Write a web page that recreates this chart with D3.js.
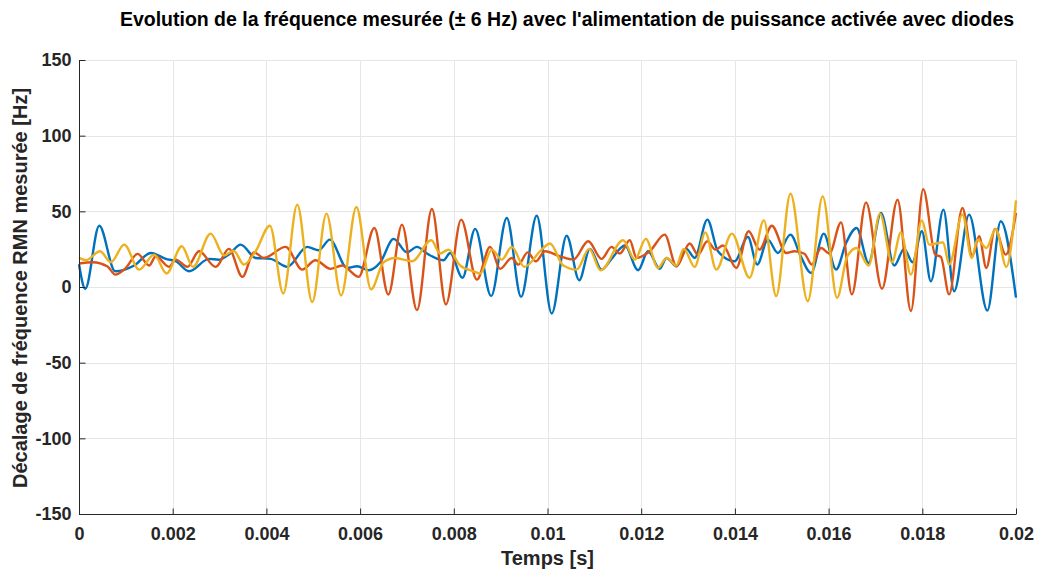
<!DOCTYPE html>
<html>
<head>
<meta charset="utf-8">
<script src="https://cdn.jsdelivr.net/npm/d3@7"></script>
<style>
  html, body { margin: 0; padding: 0; background: #fff; }
  svg { display: block; font-family: "Liberation Sans", Arial, Helvetica, sans-serif; }
</style>
</head>
<body>
<svg id="chart" width="1038" height="572"></svg>
<script>
// ---- Data (time in s, frequency offset in Hz) ----
const titleText = "Evolution de la fréquence mesurée (\u00B1 6 Hz) avec l'alimentation de puissance activée avec diodes";
const xLabel = "Temps [s]";
const yLabel = "Décalage de fréquence RMN mesurée [Hz]";
const xTicks = [0, 0.002, 0.004, 0.006, 0.008, 0.01, 0.012, 0.014, 0.016, 0.018, 0.02];
const yTicks = [-150, -100, -50, 0, 50, 100, 150];
const seriesNames = ["Série 1", "Série 2", "Série 3"];
const seriesColors = ["#0072BD", "#D95319", "#EDB120"];

const blueT = [0, 0.000134, 0.000432, 0.000773, 0.001178, 0.001534, 0.001853, 0.002066, 0.002349, 0.002775, 0.002982, 0.003220, 0.003450, 0.003770, 0.004089, 0.004445, 0.004871, 0.005118, 0.005353, 0.005723, 0.005936, 0.006183, 0.006432, 0.006716, 0.007001, 0.007214, 0.007427, 0.007781, 0.007923, 0.008185, 0.008456, 0.008797, 0.009131, 0.009436, 0.009770, 0.010090, 0.010409, 0.010677, 0.010905, 0.011154, 0.011367, 0.011651, 0.011934, 0.012147, 0.012396, 0.012539, 0.012752, 0.012965, 0.013142, 0.013412, 0.013638, 0.013994, 0.014277, 0.014477, 0.014703, 0.014916, 0.015186, 0.015399, 0.015627, 0.015896, 0.016160, 0.016373, 0.016598, 0.016854, 0.017118, 0.017401, 0.017614, 0.017791, 0.017991, 0.018183, 0.018451, 0.018679, 0.018999, 0.019389, 0.019674, 0.02];
const blueV = [15, -1.2, 40.5, 10.4, 14.2, 22.5, 18.6, 17, 10.4, 18.6, 18, 22, 28, 19.2, 18.6, 13.3, 26.5, 24.3, 31.3, 12.6, 13.7, 11.1, 16.4, 31.8, 22.9, 26.5, 22.1, 17.7, 22.5, 6.1, 38.4, -6, 45.6, -6.5, 47.1, -17.5, 33.9, 4.5, 25.2, 11.5, 18.6, 27.4, 11.1, 23.6, 12, 19.2, 13.7, 25.2, 19.2, 44.5, 23.6, 17, 33.1, 14.8, 31.3, 22.5, 34.6, 20.8, 9.3, 35.3, 11.5, 29.1, 39, 15.9, 48.9, 14.2, 25.2, 16.4, 36.8, 3.8, 51.1, -2.8, 47.8, -15.5, 43.4, -7];

const orangeT = [0, 0.000292, 0.000611, 0.000773, 0.001001, 0.001250, 0.001497, 0.001640, 0.001923, 0.002066, 0.002315, 0.002562, 0.002918, 0.003201, 0.003487, 0.003734, 0.003947, 0.004409, 0.004765, 0.005048, 0.005367, 0.005617, 0.005970, 0.006305, 0.006603, 0.006894, 0.007214, 0.007533, 0.007832, 0.008157, 0.008492, 0.008775, 0.008988, 0.009237, 0.009378, 0.009578, 0.009749, 0.009947, 0.010266, 0.010550, 0.010869, 0.011154, 0.011367, 0.011544, 0.011757, 0.011900, 0.012183, 0.012502, 0.012752, 0.013035, 0.013212, 0.013412, 0.013583, 0.013744, 0.014030, 0.014292, 0.014526, 0.014788, 0.015095, 0.015271, 0.015484, 0.015640, 0.015840, 0.016017, 0.016266, 0.016496, 0.016799, 0.017140, 0.017472, 0.017757, 0.018019, 0.018275, 0.018396, 0.018573, 0.018856, 0.019069, 0.019212, 0.019367, 0.019553, 0.019781, 0.02];
const orangeV = [15.5, 16.4, 13.5, 8.2, 12.6, 21.9, 14.2, 20.3, 13.3, 18.1, 13.3, 23.6, 13.3, 25.2, 6.7, 22.9, 19.2, 26.5, 11.5, 17.7, 12, 14.2, 6.7, 39, -5, 41.2, -15.3, 51.5, -11.5, 44.5, 4.9, 26.5, 12, 19.2, 14.8, 22.9, 17, 23.6, 20.3, 18.1, 30.2, 18.6, 26.5, 22.1, 30.9, 19.2, 23.6, 34.6, 13.7, 28.7, 21.4, 30.2, 24.7, 27.4, 12.6, 36.8, 24.7, 40.5, 22.5, 23.6, 22, 14.8, 25.8, 22.1, 42.7, -4.9, 55.9, -1.2, 57.7, -15.9, 64.7, 21.4, 19.9, -4.9, 52.2, 20.3, 33.5, 12.6, 38.4, 21.4, 49];

const yellowT = [0, 0.000149, 0.000447, 0.000682, 0.000965, 0.001284, 0.001604, 0.001868, 0.002194, 0.002434, 0.002811, 0.003095, 0.003301, 0.003521, 0.003770, 0.004075, 0.004360, 0.004658, 0.004978, 0.005282, 0.005595, 0.005921, 0.006234, 0.006503, 0.006752, 0.007108, 0.007519, 0.007710, 0.007887, 0.008136, 0.008420, 0.008562, 0.008812, 0.009025, 0.009237, 0.009506, 0.009876, 0.010053, 0.010337, 0.010622, 0.010890, 0.011133, 0.011615, 0.011864, 0.012098, 0.012360, 0.012539, 0.012752, 0.012907, 0.013142, 0.013369, 0.013603, 0.013936, 0.014313, 0.014618, 0.014881, 0.015186, 0.015555, 0.015874, 0.016181, 0.016394, 0.016598, 0.016854, 0.017097, 0.017352, 0.017544, 0.017757, 0.017991, 0.018147, 0.018445, 0.018573, 0.018856, 0.019056, 0.019176, 0.019367, 0.019567, 0.019794, 0.02];
const yellowV = [19.2, 17.7, 23.6, 16.4, 28, 11.5, 21.4, 8.9, 26.9, 13.3, 35.3, 20.8, 24, 14.8, 23.6, 40.5, -4.3, 54.4, -10, 48.5, -5.6, 52.9, -1.6, 16.4, 19.2, 17, 30.9, 22.1, 24.7, 14.2, 10.4, 8.9, 24.7, 18.1, 26.5, 13.3, 24.7, 28.7, 14.2, 11.5, 25.2, 11.1, 30.9, 18.1, 31.8, 12.6, 19.2, 14.2, 25.2, 13.3, 36.1, 11.5, 35.3, 6.1, 44, -6, 61.6, -9.4, 59.9, -7.1, 19.9, 25.8, 14.2, 48.5, 16.4, 36.1, 8.2, 44, 28, 29.5, 14.8, 47.8, 19.2, 31.3, 25.8, 38.4, 13.3, 57.2];

// ---- Layout ----
const W = 1038, H = 572;
const margin = { left: 79, right: 22, top: 60, bottom: 58 };
const svg = d3.select("#chart");
const x = d3.scaleLinear().domain([0, 0.02]).range([margin.left, W - margin.right]);
const y = d3.scaleLinear().domain([-150, 150]).range([H - margin.bottom, margin.top]);

const axisColor = "#262626";
const gridColor = "#e6e6e6";
const fontFam = "Liberation Sans, Arial, sans-serif";

// grid
const grid = svg.append("g");
grid.selectAll("line.gx").data(xTicks).join("line")
  .attr("x1", d => Math.round(x(d)) + 0.5).attr("x2", d => Math.round(x(d)) + 0.5)
  .attr("y1", y(-150)).attr("y2", y(150))
  .attr("stroke", gridColor).attr("stroke-width", 1);
grid.selectAll("line.gy").data(yTicks).join("line")
  .attr("y1", d => Math.round(y(d)) + 0.5).attr("y2", d => Math.round(y(d)) + 0.5)
  .attr("x1", x(0)).attr("x2", x(0.02))
  .attr("stroke", gridColor).attr("stroke-width", 1);

// series
const sets = [[blueT, blueV], [orangeT, orangeV], [yellowT, yellowV]];
const line = d3.line().x(d => x(d[0])).y(d => y(d[1])).curve(d3.curveMonotoneX);
const plot = svg.append("g");
sets.forEach((s, i) => {
  const pts = s[0].map((t, k) => [t, s[1][k]]);
  plot.append("path").datum(pts)
    .attr("d", line)
    .attr("fill", "none")
    .attr("stroke", seriesColors[i])
    .attr("stroke-width", 2.4)
    .attr("stroke-linejoin", "round")
    .attr("data-name", seriesNames[i]);
});

// axes
const xAxis = d3.axisBottom(x).tickValues(xTicks).tickSizeInner(-6).tickSizeOuter(0)
  .tickPadding(13).tickFormat(d => d === 0 ? "0" : String(+d.toFixed(3)));
const gx = svg.append("g").attr("transform", `translate(0,${Math.round(y(-150)) + 0.5})`).call(xAxis);
gx.select(".domain").attr("stroke", axisColor).attr("d", `M${x(0)},0H${x(0.02)}`);
gx.selectAll(".tick line").attr("stroke", axisColor);
gx.selectAll(".tick text").attr("fill", axisColor)
  .style("font-size", "18px").style("font-weight", "bold").style("font-family", fontFam);

const yAxis = d3.axisLeft(y).tickValues(yTicks).tickSizeInner(-6).tickSizeOuter(0).tickPadding(8)
  .tickFormat(d => String(d));
const gy = svg.append("g").attr("transform", `translate(${Math.round(x(0)) + 0.5},0)`).call(yAxis);
gy.select(".domain").attr("stroke", axisColor).attr("d", `M0,${y(-150)}V${y(150)}`);
gy.selectAll(".tick line").attr("stroke", axisColor);
gy.selectAll(".tick text").attr("fill", axisColor)
  .style("font-size", "18px").style("font-weight", "bold").style("font-family", fontFam);

// labels
svg.append("text").attr("x", 567).attr("y", 26)
  .attr("text-anchor", "middle").attr("fill", "#000")
  .style("font-size", "19.5px").style("font-weight", "bold")
  .text(titleText);
svg.append("text").attr("x", x(0.01)).attr("y", 565)
  .attr("text-anchor", "middle").attr("fill", axisColor)
  .style("font-size", "20px").style("font-weight", "bold")
  .text(xLabel);
svg.append("text").attr("transform", `translate(27,${y(0) + 1}) rotate(-90)`)
  .attr("text-anchor", "middle").attr("fill", axisColor)
  .style("font-size", "20px").style("font-weight", "bold")
  .text(yLabel);
</script>
</body>
</html>
